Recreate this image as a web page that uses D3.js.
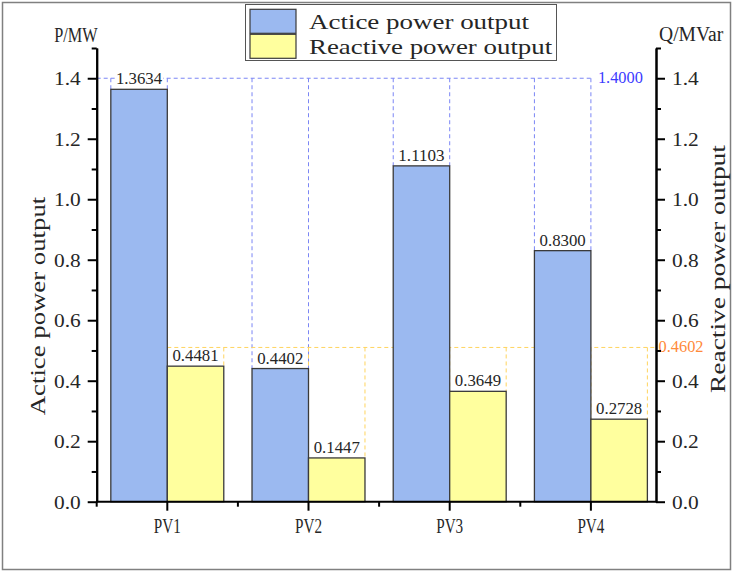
<!DOCTYPE html>
<html>
<head>
<meta charset="utf-8">
<script src="https://cdn.jsdelivr.net/npm/d3@7"></script>
<style>
  body { margin: 0; background: #fff; }
  svg { display: block; }
</style>
</head>
<body>
<svg id="chart" width="734" height="573"></svg>
<script>
'use strict';

// Data
const categories = ['PV1', 'PV2', 'PV3', 'PV4'];
const activePower = [1.3634, 0.4402, 1.1103, 0.8300];
const reactivePower = [0.4481, 0.1447, 0.3649, 0.2728];
const seriesNames = ['Actice power output', 'Reactive power output'];
const majorTicks = [0, 0.2, 0.4, 0.6, 0.8, 1.0, 1.2, 1.4];
const minorTicks = [0.1, 0.3, 0.5, 0.7, 0.9, 1.1, 1.3, 1.5];
const refLevels = [1.4, 0.51];
const refLabels = ['1.4000', '0.4602'];

const FONT = '"Liberation Serif", "DejaVu Serif", serif';
const TEXT = '#262626';
const BLUE = '#9bb9f0';
const YELLOW = '#ffff9e';
const BAR_STROKE = '#3a3a3a';
const BLUE_DASH = '#7b86f5';
const YELLOW_DASH = '#ffd45e';

const plotLeft = 96.7, plotRight = 656, plotTop = 48, plotBottom = 501.7;
const step = 141.2;

const svg = d3.select('#chart');

// mimic the narrow SimSun ascii glyphs: fixed advance per char
function sim (sel, size, charW) {
  sel.attr('font-family', FONT)
    .attr('font-size', size)
    .attr('lengthAdjust', 'spacingAndGlyphs')
    .attr('textLength', function () { return this.textContent.length * charW; });
}

const x = d3.scaleBand()
  .domain(categories)
  .range([plotLeft, plotLeft + step * categories.length])
  .paddingInner(0)
  .paddingOuter(0);

const y = d3.scaleLinear().domain([0, 1.5]).range([plotBottom, plotTop]);

const band = x.bandwidth();
const bw = band * 0.4;
const blueX = c => x(c) + band * 0.1;
const yellowX = c => x(c) + band * 0.5;

// outer frame
svg.append('rect')
  .attr('x', 2.5).attr('y', 2.5)
  .attr('width', 728).attr('height', 567)
  .attr('fill', 'none')
  .attr('stroke', '#808080')
  .attr('stroke-width', 1.5);

// dashed guide lines (behind bars)
const guides = svg.append('g').attr('class', 'guides')
  .attr('fill', 'none').attr('stroke-width', 1).attr('stroke-dasharray', '4,3');

categories.forEach((c, i) => {
  [blueX(c), blueX(c) + bw].forEach(px => {
    guides.append('line')
      .attr('x1', px).attr('x2', px)
      .attr('y1', y(refLevels[0])).attr('y2', y(activePower[i]))
      .attr('stroke', BLUE_DASH);
  });
  [yellowX(c), yellowX(c) + bw].forEach(px => {
    guides.append('line')
      .attr('x1', px).attr('x2', px)
      .attr('y1', y(refLevels[1])).attr('y2', y(reactivePower[i]))
      .attr('stroke', YELLOW_DASH);
  });
});

const lastCat = categories[categories.length - 1];
guides.append('line')
  .attr('x1', plotLeft).attr('x2', blueX(lastCat) + bw)
  .attr('y1', y(refLevels[0])).attr('y2', y(refLevels[0]))
  .attr('stroke', BLUE_DASH);
guides.append('line')
  .attr('x1', yellowX(categories[0])).attr('x2', plotRight)
  .attr('y1', y(refLevels[1])).attr('y2', y(refLevels[1]))
  .attr('stroke', YELLOW_DASH);

// bars
const bars = svg.append('g').attr('class', 'bars');
bars.selectAll('rect.active')
  .data(categories)
  .enter().append('rect')
    .attr('class', 'active')
    .attr('x', c => blueX(c))
    .attr('y', (c, i) => y(activePower[i]))
    .attr('width', bw)
    .attr('height', (c, i) => plotBottom - y(activePower[i]))
    .attr('fill', BLUE)
    .attr('stroke', BAR_STROKE)
    .attr('stroke-width', 1.3);
bars.selectAll('rect.reactive')
  .data(categories)
  .enter().append('rect')
    .attr('class', 'reactive')
    .attr('x', c => yellowX(c))
    .attr('y', (c, i) => y(reactivePower[i]))
    .attr('width', bw)
    .attr('height', (c, i) => plotBottom - y(reactivePower[i]))
    .attr('fill', YELLOW)
    .attr('stroke', BAR_STROKE)
    .attr('stroke-width', 1.3);

// value labels with white background
const LABEL_CW = 7.7;
function valueLabel (cx, value) {
  const txt = value.toFixed(4);
  const w = txt.length * LABEL_CW;
  const g = svg.append('g').attr('class', 'value-label');
  g.append('rect')
    .attr('x', cx - w / 2 - 1).attr('y', y(value) - 18)
    .attr('width', w + 2).attr('height', 13)
    .attr('fill', '#fff');
  g.append('text')
    .attr('x', cx).attr('y', y(value) - 5)
    .attr('text-anchor', 'middle')
    .attr('fill', TEXT)
    .text(txt)
    .call(sim, 17, LABEL_CW);
}
categories.forEach((c, i) => {
  valueLabel(blueX(c) + bw / 2, activePower[i]);
  valueLabel(yellowX(c) + bw / 2, reactivePower[i]);
});

// reference level labels
svg.append('text')
  .attr('x', blueX(lastCat) + bw + 7).attr('y', y(refLevels[0]) + 5)
  .attr('fill', '#3b3bff')
  .text(refLabels[0])
  .call(sim, 16, 7.5);
svg.append('text')
  .attr('x', plotRight + 2.5).attr('y', y(refLevels[1]) + 5)
  .attr('fill', '#ff8a3a')
  .text(refLabels[1])
  .call(sim, 16, 7.5);

// axes
function styleAxis (g) {
  g.select('.domain').attr('stroke-width', 2);
  g.selectAll('line').attr('stroke-width', 2);
}

const fmt = d3.format('.1f');

svg.append('g')
  .attr('transform', `translate(${plotLeft},0)`)
  .call(d3.axisLeft(y).tickValues(minorTicks).tickSize(5).tickSizeOuter(0).tickFormat(''))
  .call(styleAxis);
svg.append('g')
  .attr('transform', `translate(${plotLeft},0)`)
  .call(d3.axisLeft(y).tickValues(majorTicks).tickSize(9).tickSizeOuter(0)
    .tickPadding(7).tickFormat(fmt))
  .call(styleAxis)
  .call(g => g.selectAll('text').attr('dy', '0.34em').attr('fill', TEXT).call(sim, 19.5, 8.9));

svg.append('g')
  .attr('transform', `translate(${plotRight},0)`)
  .call(d3.axisRight(y).tickValues(minorTicks).tickSize(5).tickSizeOuter(0).tickFormat(''))
  .call(styleAxis);
svg.append('g')
  .attr('transform', `translate(${plotRight},0)`)
  .call(d3.axisRight(y).tickValues(majorTicks).tickSize(9).tickSizeOuter(0)
    .tickPadding(7).tickFormat(fmt))
  .call(styleAxis)
  .call(g => g.selectAll('text').attr('dy', '0.34em').attr('fill', TEXT).call(sim, 19.5, 8.9));

// bottom axis: line, minor ticks on band edges, major at centres
const xAxis = svg.append('g').attr('transform', `translate(0,${plotBottom})`);
xAxis.append('line')
  .attr('x1', plotLeft).attr('x2', plotRight)
  .attr('stroke', '#000').attr('stroke-width', 2);
xAxis.selectAll('line.minor')
  .data(categories)
  .enter().append('line')
    .attr('class', 'minor')
    .attr('x1', c => x(c)).attr('x2', c => x(c))
    .attr('y1', 0).attr('y2', 5)
    .attr('stroke', '#000').attr('stroke-width', 2);
xAxis.selectAll('line.major')
  .data(categories)
  .enter().append('line')
    .attr('class', 'major')
    .attr('x1', c => x(c) + band / 2).attr('x2', c => x(c) + band / 2)
    .attr('y1', 0).attr('y2', 9)
    .attr('stroke', '#000').attr('stroke-width', 2);
xAxis.selectAll('text')
  .data(categories)
  .enter().append('text')
    .attr('x', c => x(c) + band / 2)
    .attr('y', 31)
    .attr('text-anchor', 'middle')
    .attr('fill', TEXT)
    .text(c => c)
    .call(sim, 20, 9);

// unit labels
svg.append('text')
  .attr('x', 54.3).attr('y', 41.5)
  .attr('fill', TEXT)
  .text('P/MW')
  .call(sim, 20, 10.85);
svg.append('text')
  .attr('x', 659).attr('y', 40.5)
  .attr('fill', TEXT)
  .text('Q/MVar')
  .call(sim, 20, 10.7);

// axis titles
svg.append('text')
  .attr('transform', 'translate(45,306) rotate(-90)')
  .attr('text-anchor', 'middle')
  .attr('fill', TEXT)
  .text(seriesNames[0])
  .call(sim, 21, 11.5);
svg.append('text')
  .attr('transform', 'translate(725,269) rotate(-90)')
  .attr('text-anchor', 'middle')
  .attr('fill', TEXT)
  .text(seriesNames[1])
  .call(sim, 21, 11.8);

// legend
const legend = svg.append('g').attr('class', 'legend');
legend.append('rect')
  .attr('x', 245.5).attr('y', 4.5)
  .attr('width', 311).attr('height', 56)
  .attr('fill', '#fff')
  .attr('stroke', '#555')
  .attr('stroke-width', 1);
const legendItems = legend.selectAll('g.item')
  .data(seriesNames)
  .enter().append('g')
    .attr('class', 'item')
    .attr('transform', (d, i) => `translate(0,${i * 25})`);
legendItems.append('rect')
  .attr('x', 250).attr('y', 9.3)
  .attr('width', 46).attr('height', 24)
  .attr('fill', (d, i) => i === 0 ? BLUE : YELLOW)
  .attr('stroke', BAR_STROKE)
  .attr('stroke-width', 1.2);
legendItems.append('text')
  .attr('x', 309).attr('y', 29)
  .attr('fill', TEXT)
  .text(d => d)
  .call(sim, 21, 11.58);
</script>
</body>
</html>
